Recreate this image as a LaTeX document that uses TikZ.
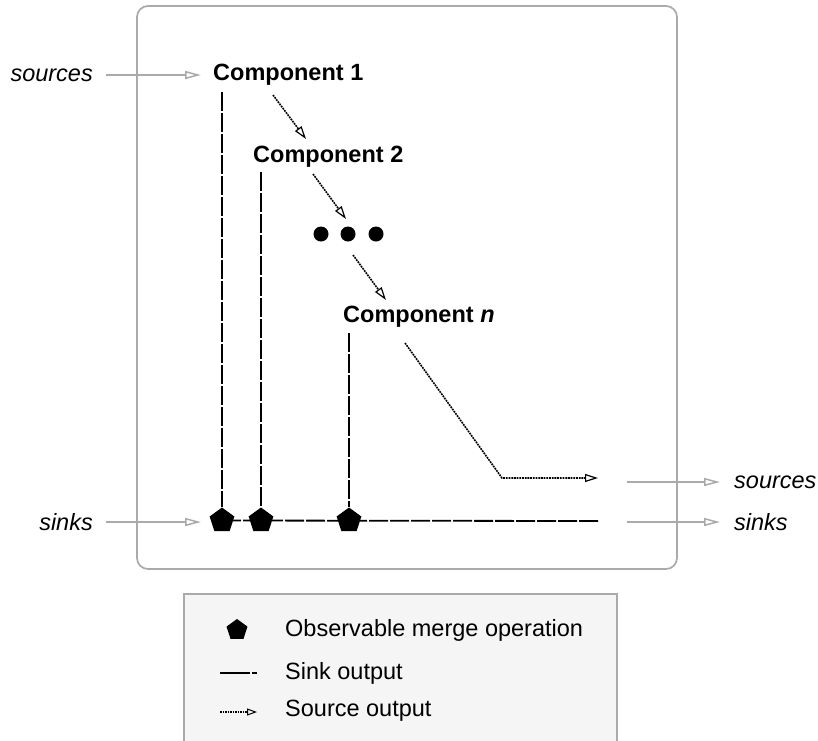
\documentclass[tikz,border=0pt]{standalone}
\usepackage{fontspec}
\setmainfont{Liberation Sans}
\usetikzlibrary{arrows.meta,shapes.geometric}

\definecolor{frame}{HTML}{AAAAAA}
\definecolor{legendbg}{HTML}{F5F5F5}

\tikzset{
  txt/.style={font=\fontsize{23.5}{28}\selectfont, inner sep=0pt},
  comp/.style={txt, font=\fontsize{23.5}{28}\selectfont\bfseries},
  lbl/.style={txt, font=\fontsize{23.5}{28}\selectfont\itshape},
  merge/.style={regular polygon, regular polygon sides=5, fill=black,
    draw=none, inner sep=0pt, minimum size=26pt},
  dot/.style={circle, fill=black, inner sep=0pt, minimum size=15pt},
  sinkline/.style={line width=1.8pt, dash pattern=on 19pt off 2pt},
  sourceline/.style={line width=1.6pt, dash pattern=on 1.8pt off 0.9pt,
    -{Triangle[open, length=13pt, width=8pt, line width=1.2pt]}},
  io/.style={draw=frame, line width=1.7pt,
    -{Triangle[open, length=16pt, width=8pt, line width=1.5pt]}},
}

\begin{document}
\begin{tikzpicture}[x=1pt, y=-1pt]
  \useasboundingbox (0,0) rectangle (818,740);
  \clip (0,0) rectangle (818,740);

  % enclosing system box
  \draw[frame, line width=1.7pt, rounded corners=11pt] (137,6) rectangle (677,569);

  % components
  \node[comp, anchor=west] (c1) at (213,75) {Component 1};
  \node[comp, anchor=west] (c2) at (253,157) {Component 2};
  \node[dot] (d1) at (321,234) {};
  \node[dot] (dots) at (348,234) {};
  \node[dot] (d3) at (376,234) {};
  \node[comp, anchor=west] (cn) at (343,317) {Component \textit{n}};

  % merge operations on the sink line
  \node[merge] (m1) at (222,520.5) {};
  \node[merge] (m2) at (261,520.5) {};
  \node[merge] (m3) at (349,520.5) {};

  % anchor points of the connectors
  \coordinate (c1s) at (222,92);
  \coordinate (c2s) at (261,172);
  \coordinate (cns) at (349,333);
  \coordinate (sinkend) at (598,521);
  \coordinate (c1o) at (273,95);
  \coordinate (c2i) at (306,139);
  \coordinate (c2o) at (313,174);
  \coordinate (dotsi) at (346,219);
  \coordinate (dotso) at (353,255);
  \coordinate (cni) at (386,300);
  \coordinate (cno) at (405,343);
  \coordinate (bend) at (502,478);
  \coordinate (srcend) at (598,478);

  % sink outputs
  \draw[sinkline] (c1s) -- (m1.north);
  \draw[sinkline] (c2s) -- (m2.north);
  \draw[sinkline] (cns) -- (m3.north);
  \draw[sinkline] (m1.center) -- (sinkend);

  % source outputs
  \draw[sourceline] (c1o) -- (c2i);
  \draw[sourceline] (c2o) -- (dotsi);
  \draw[sourceline] (dotso) -- (cni);
  \draw[sourceline] (cno) -- (bend) -- (srcend);

  % inputs and outputs of the system
  \node[lbl, anchor=east] (srcin) at (93,75) {sources};
  \node[lbl, anchor=east] (sinkin) at (93,522) {sinks};
  \node[lbl, anchor=west] (srcout) at (734,482) {sources};
  \node[lbl, anchor=west] (sinkout) at (734,522) {sinks};
  \coordinate (srcin-e) at (106,75);
  \coordinate (srcin-t) at (201,75);
  \coordinate (sinkin-e) at (106,522);
  \coordinate (sinkin-t) at (201,522);
  \coordinate (srcout-s) at (627,482);
  \coordinate (sinkout-s) at (627,522);
  \draw[io] (srcin-e) -- (srcin-t);
  \draw[io] (sinkin-e) -- (sinkin-t);
  \draw[io] (srcout-s) -- (720,482);
  \draw[io] (sinkout-s) -- (720,522);

  % legend
  \draw[frame, line width=1.7pt, fill=legendbg] (184,594) rectangle (617,760);
  \node[merge, minimum size=22pt] (lm) at (237,630) {};
  \node[txt, anchor=west] (lmt) at (285,630) {Observable merge operation};
  \coordinate (lsa) at (220,673);
  \coordinate (lsb) at (257,673);
  \draw[line width=1.5pt, dash pattern=on 30pt off 2pt] (lsa) -- (lsb);
  \node[txt, anchor=west] (lst) at (285,673) {Sink output};
  \coordinate (loa) at (220,712);
  \coordinate (lob) at (257,712);
  \draw[line width=1.3pt, dash pattern=on 1.6pt off 0.9pt,
    -{Triangle[open, length=10pt, width=7pt, line width=1pt]}] (loa) -- (lob);
  \node[txt, anchor=west] (lot) at (285,711) {Source output};
\end{tikzpicture}
\end{document}
